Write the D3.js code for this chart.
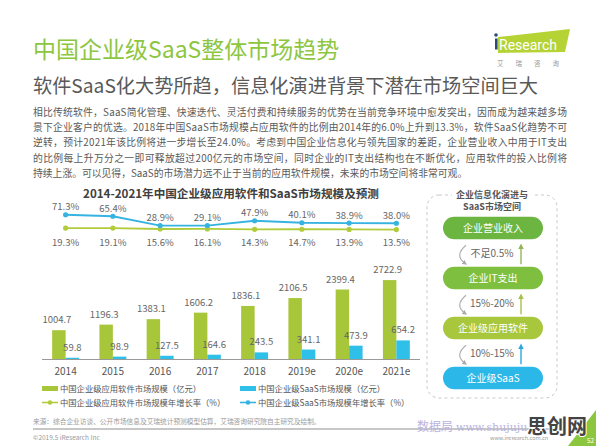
<!DOCTYPE html>
<html>
<head>
<meta charset="utf-8">
<script src="https://cdn.jsdelivr.net/npm/d3@7"></script>
<style>
  body { margin: 0; background: #fff; }
  svg { display: block; font-family: "Noto Sans CJK SC", "Noto Sans", sans-serif; }
</style>
</head>
<body>
<svg width="596" height="446"></svg>
<script>
let years = ["2014", "2015", "2016", "2017", "2018", "2019e", "2020e", "2021e"];
let appSize = [1004.7, 1196.3, 1383.1, 1606.2, 1836.1, 2106.5, 2399.4, 2722.9];
let saasSize = [59.8, 98.9, 127.5, 164.6, 243.5, 341.1, 473.9, 654.2];
let appGrowth = [19.3, 19.1, 15.6, 16.1, 14.3, 14.7, 13.9, 13.5];
let saasGrowth = [71.3, 65.4, 28.9, 29.1, 47.9, 40.1, 38.9, 38.0];

let paragraph = [
  "相比传统软件，SaaS简化管理、快速迭代、灵活付费和持续服务的优势在当前竞争环境中愈发突出，因而成为越来越多场",
  "景下企业客户的优选。2018年中国SaaS市场规模占应用软件的比例由2014年的6.0%上升到13.3%，软件SaaS化趋势不可",
  "逆转，预计2021年该比例将进一步增长至24.0%。考虑到中国企业信息化与领先国家的差距，企业营业收入中用于IT支出",
  "的比例每上升万分之一即可释放超过200亿元的市场空间，同时企业的IT支出结构也在不断优化，应用软件的投入比例将",
  "持续上涨。可以见得，SaaS的市场潜力远不止于当前的应用软件规模，未来的市场空间将非常可观。"
];
let legendItems = [
  "中国企业级应用软件市场规模（亿元）", "中国企业级SaaS市场规模（亿元）",
  "中国企业级应用软件市场规模年增长率（%）", "中国企业级SaaS市场规模年增长率（%）"
];
let steps = ["企业营业收入", "企业IT支出", "企业级应用软件", "企业级SaaS"];
let stepRatios = ["不足0.5%", "15%-20%", "10%-15%"];

let green = "#a7c63a", blue = "#2ec0e9", lineGreen = "#b1cb3c", lineBlue = "#36b3e0";
let stepColors = ["#6cb540", "#7fbf3f", "#a8c73c", "#2bb8e8"];
let arrowColors = ["#93b55a", "#a8bf4c", "#2aa9df"];

let svg = d3.select("svg");

// header
svg.append("text").attr("x", 33).attr("y", 58)
  .style("font-size", "23px").attr("fill", "#8dc641").text("中国企业级SaaS整体市场趋势");
svg.append("text").attr("x", 33).attr("y", 93)
  .style("font-size", "19.2px").attr("fill", "#595959").text("软件SaaS化大势所趋，信息化演进背景下潜在市场空间巨大");

// logo
svg.append("polygon").attr("points", "498,37 570,29 565,52 498,53").attr("fill", "#b5d334");
svg.append("circle").attr("cx", 496).attr("cy", 35).attr("r", 1.8).attr("fill", "#2a4a7a");
svg.append("rect").attr("x", 495).attr("y", 38.5).attr("width", 2.6).attr("height", 11).attr("fill", "#2a4a7a");
svg.append("text").attr("x", 499).attr("y", 49.5)
  .style("font-family", "Roboto, sans-serif").style("font-size", "14px").attr("fill", "#fff").text("Research");
svg.append("text").attr("x", 497).attr("y", 66).style("font-size", "6.5px").attr("fill", "#999")
  .attr("textLength", 62).attr("lengthAdjust", "spacing").text("艾瑞咨询");

// paragraph
svg.append("g").selectAll("text")
  .data(paragraph)
  .enter().append("text")
  .attr("x", 33)
  .attr("y", function(d, i) { return 115.5 + i * 15.4; })
  .attr("textLength", function(d, i) { return i < 4 ? 534 : null; })
  .attr("lengthAdjust", "spacing")
  .style("font-size", "9.8px")
  .attr("fill", "#5a5a5a")
  .text(d => d);

// chart title
svg.append("text").attr("x", 231).attr("y", 197.5).attr("text-anchor", "middle")
  .style("font-size", "11.6px").style("font-weight", "bold").attr("fill", "#404040")
  .text("2014-2021年中国企业级应用软件和SaaS市场规模及预测");

let x = d3.scaleBand().domain(years).range([42, 420]).paddingInner(0.43).paddingOuter(0.215);
let yBar = d3.scaleLinear().domain([0, 3000]).range([359.5, 272]);
let yLine = d3.scaleLinear().domain([0, 100]).range([233, 207.4]);
let bw = x.bandwidth() / 2;
let cx = function(d) { return x(d) + x.bandwidth() / 2; };

let bars = svg.append("g");
bars.selectAll(".app").data(years).enter().append("rect")
  .attr("x", d => x(d)).attr("width", bw)
  .attr("y", (d, i) => yBar(appSize[i])).attr("height", (d, i) => yBar(0) - yBar(appSize[i]))
  .attr("fill", green);
bars.selectAll(".saas").data(years).enter().append("rect")
  .attr("x", d => x(d) + bw).attr("width", bw)
  .attr("y", (d, i) => yBar(saasSize[i])).attr("height", (d, i) => yBar(0) - yBar(saasSize[i]))
  .attr("fill", blue);

let labelStyle = function(sel) {
  sel.attr("text-anchor", "middle").style("font-size", "9.5px").attr("fill", "#666");
};
bars.selectAll(".appLabel").data(years).enter().append("text")
  .attr("x", d => x(d) + bw / 2 - 2).attr("y", (d, i) => yBar(appSize[i]) - 7)
  .call(labelStyle).text((d, i) => appSize[i].toFixed(1));
bars.selectAll(".saasLabel").data(years).enter().append("text")
  .attr("x", d => x(d) + bw * 1.5).attr("y", (d, i) => yBar(saasSize[i]) - 7)
  .call(labelStyle).text((d, i) => saasSize[i].toFixed(1));

// x axis
svg.append("line").attr("x1", 42).attr("x2", 420).attr("y1", yBar(0)).attr("y2", yBar(0))
  .attr("stroke", "#9a9a9a").attr("stroke-width", 1);
svg.append("g").selectAll("text").data(years).enter().append("text")
  .attr("x", cx).attr("y", 374.5).attr("text-anchor", "middle")
  .style("font-size", "10px").attr("fill", "#555").text(d => d);

// growth lines
let line = d3.line().x(d => cx(d[0])).y(d => yLine(d[1]));
[[appGrowth, lineGreen, 1], [saasGrowth, lineBlue, -4.5]].forEach(function(s) {
  let pts = years.map((d, i) => [d, s[0][i]]);
  svg.append("path").attr("d", line(pts)).attr("fill", "none")
    .attr("stroke", s[1]).attr("stroke-width", 1.8);
  svg.append("g").selectAll("circle").data(pts).enter().append("circle")
    .attr("cx", d => cx(d[0])).attr("cy", d => yLine(d[1])).attr("r", 2.6).attr("fill", s[1]);
  svg.append("g").selectAll("text").data(pts).enter().append("text")
    .attr("x", d => cx(d[0]))
    .attr("y", d => s[2] > 0 ? 245.5 : yLine(d[1]) + s[2])
    .call(labelStyle).text(d => d[1].toFixed(1) + "%");
});

// legend
let legend = svg.append("g");
legendItems.forEach(function(t, i) {
  let lx = i % 2 ? 240 : 42, ly = i < 2 ? 388.5 : 402.5;
  let c = i % 2 ? (i < 2 ? blue : lineBlue) : (i < 2 ? green : lineGreen);
  if (i < 2) {
    legend.append("rect").attr("x", lx).attr("y", ly - 2.5).attr("width", 16).attr("height", 5).attr("fill", c);
  } else {
    legend.append("line").attr("x1", lx).attr("x2", lx + 16).attr("y1", ly).attr("y2", ly)
      .attr("stroke", c).attr("stroke-width", 1.6);
    legend.append("circle").attr("cx", lx + 8).attr("cy", ly).attr("r", 2.3).attr("fill", c);
  }
  legend.append("text").attr("x", lx + 18).attr("y", ly + 3)
    .style("font-size", "8.3px").attr("fill", "#555").text(t);
});

// right panel
let panel = svg.append("g");
panel.append("rect").attr("x", 427).attr("y", 195).attr("width", 130).attr("height", 203).attr("rx", 12)
  .attr("fill", "none").attr("stroke", "#c8c8c8").attr("stroke-dasharray", "3,3");
panel.append("rect").attr("x", 452).attr("y", 188).attr("width", 80).attr("height", 12).attr("fill", "#fff");
panel.selectAll(".pt").data(["企业信息化演进与", "SaaS市场空间"]).enter().append("text")
  .attr("x", 492).attr("y", (d, i) => 197.5 + i * 12.5).attr("text-anchor", "middle")
  .style("font-size", "9px").style("font-weight", "bold").attr("fill", "#555").text(d => d);

let defs = svg.append("defs");
arrowColors.concat(["#aaa"]).forEach(function(c, i) {
  defs.append("marker").attr("id", "ah" + i).attr("viewBox", "0 0 10 10")
    .attr("refX", 5).attr("refY", 5).attr("markerWidth", 4).attr("markerHeight", 4)
    .attr("orient", "auto").append("path").attr("d", "M0,0L10,5L0,10z").attr("fill", c);
});

steps.forEach(function(t, i) {
  let py = 216.7 + i * 50;
  panel.append("rect").attr("x", 443).attr("y", py).attr("width", 100).attr("height", 22.6)
    .attr("rx", 11.3).attr("fill", stepColors[i]);
  panel.append("text").attr("x", 493).attr("y", py + 15).attr("text-anchor", "middle")
    .style("font-size", "10px").attr("fill", "#fff").text(t);
  if (i < 3) {
    let gy = py + 22.6;
    panel.append("path").attr("d", "M466," + (gy + 6) + " Q454," + (gy + 16) + " 465," + (gy + 24))
      .attr("fill", "none").attr("stroke", "#b0b0b0").attr("stroke-width", 1.2).attr("marker-end", "url(#ah3)");
    panel.append("line").attr("x1", 521).attr("x2", 521).attr("y1", gy + 25).attr("y2", gy + 7)
      .attr("stroke", arrowColors[i]).attr("stroke-width", 1.4).attr("marker-end", "url(#ah" + i + ")");
    panel.append("text").attr("x", 492).attr("y", gy + 18).attr("text-anchor", "middle")
      .style("font-size", "10px").attr("fill", "#666").text(stepRatios[i]);
  }
});

// footer
svg.append("text").attr("x", 33).attr("y", 423.5).style("font-size", "6.7px").attr("fill", "#9a9a9a")
  .text("来源：综合企业访谈、公开市场信息及艾瑞统计预测模型估算，艾瑞咨询研究院自主研究及绘制。");
svg.append("line").attr("x1", 33).attr("x2", 566).attr("y1", 429).attr("y2", 429)
  .attr("stroke", "#b4b4b4").attr("stroke-width", 1.5);
svg.append("text").attr("x", 33).attr("y", 440).style("font-size", "6.5px").attr("fill", "#9a9a9a")
  .text("©2019.5 iResearch Inc");
svg.append("text").attr("x", 490).attr("y", 440).style("font-size", "5.5px").attr("fill", "#9a9a9a")
  .text("www.iresearch.com.cn");
svg.append("polygon").attr("points", "596,410 596,446 568,446").attr("fill", "#8cc63f");

// watermark
svg.append("text").attr("x", 417).attr("y", 431).style("font-size", "12px").attr("fill", "#b9b3df")
  .text("数据局");
svg.append("text").attr("x", 456).attr("y", 431).style("font-family", "'DejaVu Serif', serif")
  .style("font-size", "11px").attr("fill", "#b9b3df").text("www.shujuju.cn");
svg.append("text").attr("x", 527).attr("y", 434).style("font-size", "20px").style("font-weight", "bold")
  .attr("fill", "#444").attr("stroke", "#fff").attr("stroke-width", 2).attr("paint-order", "stroke")
  .text("思创网");
svg.append("text").attr("x", 587).attr("y", 443).style("font-size", "6.5px").attr("fill", "#fff").text("52");
</script>
</body>
</html>
